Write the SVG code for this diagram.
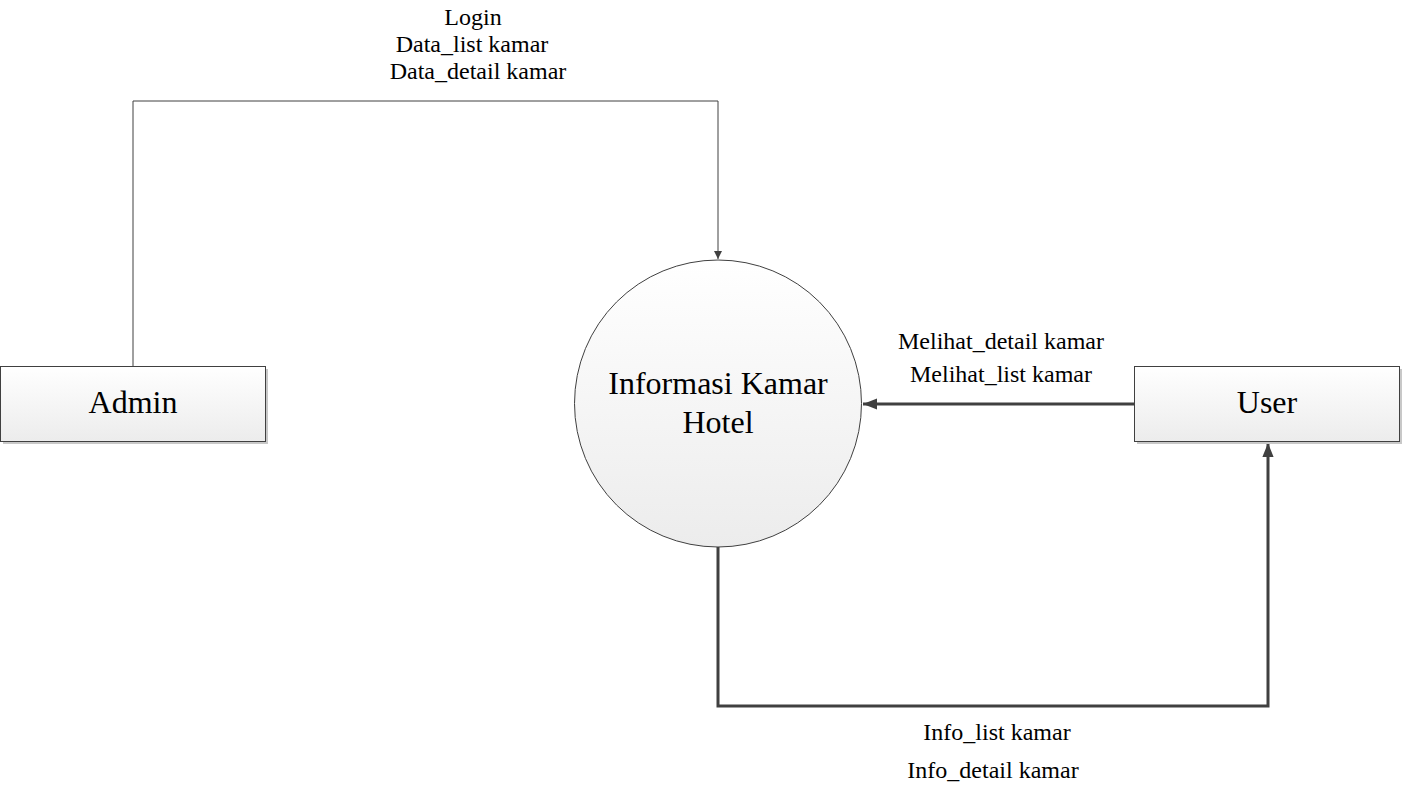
<svg xmlns="http://www.w3.org/2000/svg" width="1402" height="786" viewBox="0 0 1402 786">
<defs>
<linearGradient id="g" x1="0" y1="0" x2="0" y2="1"><stop offset="0" stop-color="#ffffff"/><stop offset="1" stop-color="#ececec"/></linearGradient>
<marker id="aS" viewBox="0 0 10 10" refX="10" refY="5" markerWidth="8" markerHeight="8" markerUnits="userSpaceOnUse" orient="auto"><path d="M0,0 L10,5 L0,10 z" fill="#404040"/></marker>
<marker id="aL" viewBox="0 0 10 10" refX="10" refY="5" markerWidth="14" markerHeight="14" markerUnits="userSpaceOnUse" orient="auto"><path d="M0,1 L10,5 L0,9 z" fill="#404040"/></marker>
</defs>
<style>
.box{fill:url(#g);stroke:#404040;stroke-width:1}
.sh{fill:#c8c8c8}
.thin{fill:none;stroke:#404040;stroke-width:1}
.thick{fill:none;stroke:#404040;stroke-width:3}
</style>
<rect width="1402" height="786" fill="#fff"/>
<g id="connectors">
<polyline class="thin" points="133,366 133,101 718,101 718,259" marker-end="url(#aS)"/>
<polyline class="thick" points="1134,404 863,404" marker-end="url(#aL)"/>
<polyline class="thick" points="718,547 718,706 1268,706 1268,443" marker-end="url(#aL)"/>
</g>
<g id="admin">
<rect class="sh" x="3" y="369" width="265" height="75"/>
<rect class="box" x="0.5" y="366.5" width="265" height="75"/>
<text x="133" y="413" font-family="Liberation Serif, serif" font-size="32" text-anchor="middle">Admin</text>
</g>
<g id="user">
<rect class="sh" x="1137" y="369" width="265" height="75"/>
<rect class="box" x="1134.5" y="366.5" width="265" height="75"/>
<text x="1267" y="413" font-family="Liberation Serif, serif" font-size="32" text-anchor="middle">User</text>
</g>
<g id="process">
<circle class="box" cx="718" cy="403.5" r="143.5"/>
<text x="718" y="394" font-family="Liberation Serif, serif" font-size="32" text-anchor="middle">Informasi Kamar</text>
<text x="718" y="433" font-family="Liberation Serif, serif" font-size="32" text-anchor="middle">Hotel</text>
</g>
<g id="labels" font-family="Liberation Serif, serif" font-size="24" text-anchor="middle">
<text x="473" y="25">Login</text>
<text x="472" y="52">Data_list kamar</text>
<text x="478" y="79">Data_detail kamar</text>
<text x="1001" y="349">Melihat_detail kamar</text>
<text x="1001" y="382">Melihat_list kamar</text>
<text x="997" y="740">Info_list kamar</text>
<text x="993" y="778">Info_detail kamar</text>
</g>
</svg>
